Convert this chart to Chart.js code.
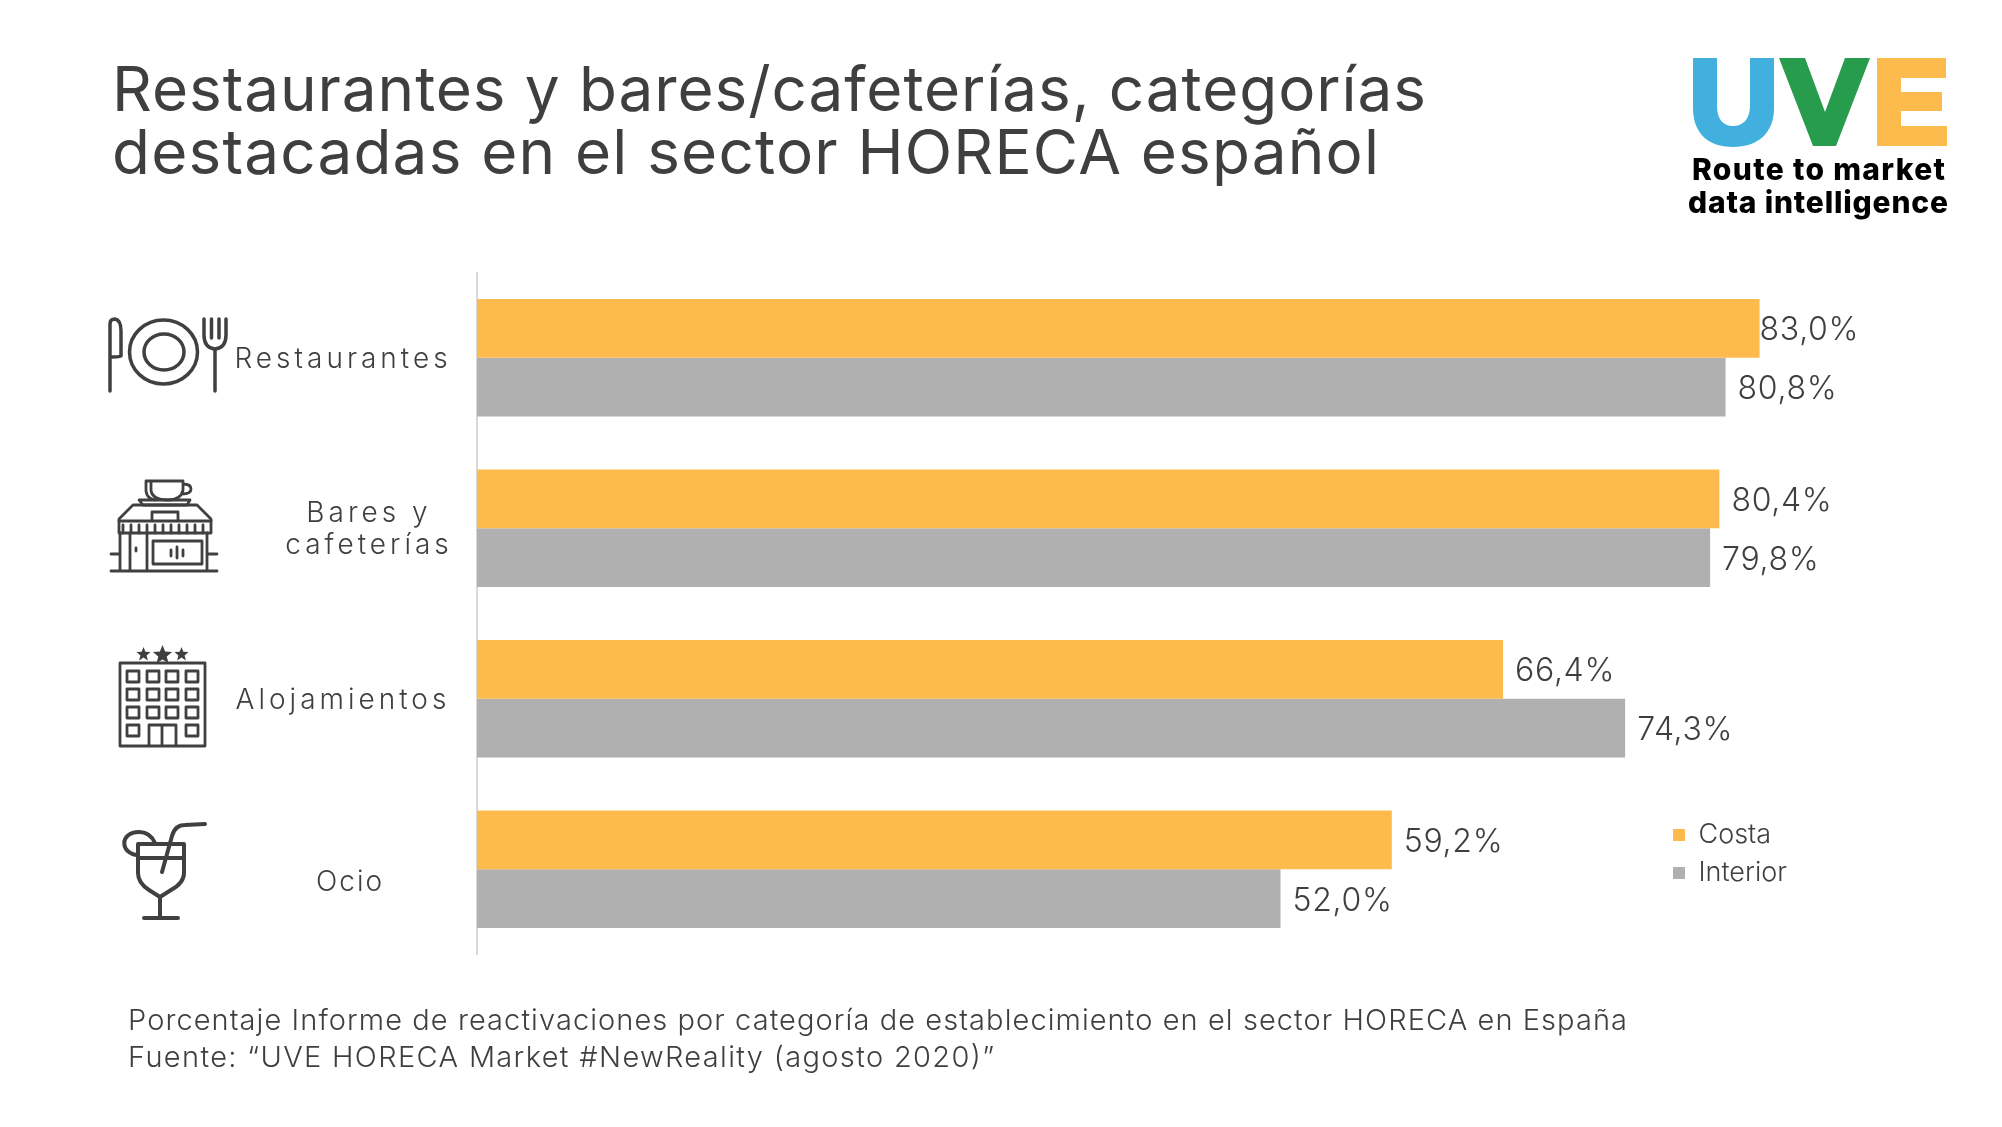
<!DOCTYPE html>
<html lang="es">
<head>
<meta charset="utf-8">
<title>Restaurantes y bares/cafeterías</title>
<script src="https://cdn.jsdelivr.net/npm/chart.js@4"></script>
<style>
  html, body { margin: 0; padding: 0; background: #fff; }
  #lienzo { position: absolute; left: 0; top: 0; width: 2002px; height: 1127px; overflow: hidden; }
  #chartBarras { position: absolute; left: 0; top: 0; }
  #capa { position: absolute; left: 0; top: 0; }
  .titulo { font: 400 62px Inter, sans-serif; fill: #3f3f3f; }
  .nota { font: 300 29px Inter, sans-serif; fill: #3f3f3f; }
  .marca { font: 800 30px Inter, sans-serif; fill: #000; }
  .icono { fill: none; stroke: #404040; stroke-width: 3.5; stroke-linecap: round; stroke-linejoin: round; }
  .estrella { fill: #404040; stroke: none; }
</style>
</head>
<body>
<div id="lienzo">
  <canvas id="chartBarras" width="2002" height="1127"></canvas>
  <svg id="capa" width="2002" height="1127" viewBox="0 0 2002 1127">
    <text class="titulo" x="112" y="111" textLength="1314" lengthAdjust="spacing">Restaurantes y bares/cafeterías, categorías</text>
    <text class="titulo" x="112" y="174" textLength="1267" lengthAdjust="spacing">destacadas en el sector HORECA español</text>

    <!-- logo -->
    <path fill="#42B0DE" d="M1693 58h24v48c0 13 6 20 16 20s17-7 17-20V58h24v50c0 25-16 39-41 39s-40-14-40-39z"/>
    <path fill="#279C4C" d="M1779 58h26l20 54 20-54h25l-34 88h-23z"/>
    <path fill="#FDBB4E" d="M1877 58h69v20h-45v14h41v19h-41v15h46v20h-70z"/>
    <text class="marca" x="1692" y="180" textLength="253" lengthAdjust="spacing">Route to market</text>
    <text class="marca" x="1688" y="213" textLength="260" lengthAdjust="spacing">data intelligence</text>

    <!-- restaurante -->
    <g class="icono">
      <path d="M110 391V324q0-5 5-5q6 1 6 12V356q0 1-9 1"/>
      <ellipse cx="163.500" cy="352" rx="34" ry="32"/>
      <ellipse cx="164" cy="352" rx="20" ry="18"/>
      <path d="M204 319V335Q204 348 215 349Q226 348 226 335V319M211.500 319V338M219 319V338M215 349V391"/>
    </g>
    <!-- cafeteria -->
    <g class="icono" style="stroke-width:2.800" transform="translate(0 -1)">
      <path d="M151 482H146V492Q147 500 155 501M151 482H183V491Q181 501 168 501Q152 501 151 491ZM183 485Q191 485 191 490Q191 495 182 495"/>
      <path d="M139 501H190L187 506H143Z"/>
      <path d="M119 520L133 506H197L211 520V534H119Z"/>
      <path d="M119 522H211"/>
      <path d="M123 534V526M131 534V526M139 534V526M147 534V526M155 534V526M163 534V526M171 534V526M179 534V526M187 534V526M195 534V526M203 534V526"/>
      <path d="M152 521V513H178V521"/>
      <path d="M120 534V572M130 534V572M147 534V572M207 534V572M111 572H217M111 555H120M207 555H217"/>
      <rect x="153" y="542" width="49" height="23"/>
      <path d="M136 549V552M171 551V557M177 548V559M183 551V557"/>
    </g>
    <!-- alojamiento -->
    <g transform="translate(0 -3)">
    <g class="icono" style="stroke-width:2.800;stroke-linecap:butt">
      <rect x="120" y="666" width="85" height="83"/>
      <rect x="127" y="674" width="12" height="11"/><rect x="147" y="674" width="12" height="11"/><rect x="166" y="674" width="12" height="11"/><rect x="186" y="674" width="12" height="11"/>
      <rect x="127" y="692" width="12" height="11"/><rect x="147" y="692" width="12" height="11"/><rect x="166" y="692" width="12" height="11"/><rect x="186" y="692" width="12" height="11"/>
      <rect x="127" y="710" width="12" height="11"/><rect x="147" y="710" width="12" height="11"/><rect x="166" y="710" width="12" height="11"/><rect x="186" y="710" width="12" height="11"/>
      <rect x="127" y="728" width="12" height="11"/><rect x="186" y="728" width="12" height="11"/>
      <path d="M149 749V728H176V749M162 728V749"/>
    </g>
    <path class="estrella" d="M143.500 650l1.900 4.800 5.100.3-3.900 3.300 1.300 5-4.400-2.800-4.400 2.800 1.300-5-3.900-3.300 5.100-.3z"/>
    <path class="estrella" d="M162.500 648l2.600 6.500 7 .5-5.400 4.500 1.800 6.800-6-3.700-6 3.700 1.800-6.800-5.400-4.500 7-.5z"/>
    <path class="estrella" d="M181.500 650l1.900 4.800 5.100.3-3.900 3.300 1.300 5-4.400-2.800-4.400 2.800 1.300-5-3.900-3.300 5.100-.3z"/>
    </g>
    <!-- ocio -->
    <g class="icono" style="stroke-width:4" transform="translate(0 -2)">
      <path d="M138 846H184V875Q184 885 171 892L160 899L149 892Q138 885 138 875Z"/>
      <path d="M138 860H184M160 899V920M144 920H178"/>
      <path d="M162 874L172 838Q175 827 185 827L205 826"/>
      <path d="M138 857C120 856 119 834 139 834Q150 834 155 845"/>
    </g>

    <text class="nota" x="128" y="1030" textLength="1499" lengthAdjust="spacing">Porcentaje Informe de reactivaciones por categoría de establecimiento en el sector HORECA en España</text>
    <text class="nota" x="128" y="1067" textLength="866" lengthAdjust="spacing">Fuente: “UVE HORECA Market #NewReality (agosto 2020)”</text>
  </svg>
</div>
<script>
const categorias = [
  { nome: ['Restaurantes'], centro: 343, ajuste: 1.5, espaco: '4px' },
  { nome: ['Bares y', 'cafeterías'], centro: 369, ajuste: 1.5, espaco: '4px' },
  { nome: ['Alojamientos'], centro: 343, ajuste: 1.5, espaco: '4px' },
  { nome: ['Ocio'], centro: 350, ajuste: 13, espaco: '2px' }
];

const series = [
  { label: 'Costa', dados: [83.0, 80.4, 66.4, 59.2], cor: '#FDBB4E' },
  { label: 'Interior', dados: [80.8, 79.8, 74.3, 52.0], cor: '#B0B0B0' }
];

// rotulos de categoria: cada um tem seu proprio centro no original
const pluginCategorias = {
  id: 'etiquetasCategoria',
  afterDraw(chart) {
    const ctx = chart.ctx;
    const escala = chart.scales.y;
    ctx.save();
    ctx.font = '300 28px Inter, sans-serif';
    ctx.fillStyle = '#3f3f3f';
    ctx.textAlign = 'center';
    ctx.textBaseline = 'middle';
    categorias.forEach((cat, i) => {
      const y = escala.getPixelForTick(i) + cat.ajuste;
      ctx.letterSpacing = cat.espaco;
      cat.nome.forEach((linha, n) => {
        ctx.fillText(linha, cat.centro, y + (n - (cat.nome.length - 1) / 2) * 32);
      });
    });
    ctx.restore();
  }
};

const pluginValores = {
  id: 'valoresBarras',
  afterDatasetsDraw(chart) {
    const ctx = chart.ctx;
    ctx.save();
    ctx.font = '300 32px Inter, sans-serif';
    ctx.letterSpacing = '0.7px';
    ctx.fillStyle = '#3f3f3f';
    ctx.textAlign = 'left';
    ctx.textBaseline = 'middle';
    chart.data.datasets.forEach((ds, d) => {
      chart.getDatasetMeta(d).data.forEach((barra, i) => {
        const texto = ds.data[i].toFixed(1).replace('.', ',') + '%';
        const folga = d === 0 && i === 0 ? 0 : 12;
        ctx.fillText(texto, barra.x + folga, barra.y + 2.5);
      });
    });
    ctx.restore();
  }
};

const pluginLegenda = {
  id: 'posicaoLegenda',
  afterLayout(chart) {
    chart.legend.left = 1662;
    chart.legend.top = 810.5;
    chart.legend.right = 1950;
    chart.legend.bottom = 1050;
  }
};

function criarGrafico() {
  const ctx = document.getElementById('chartBarras').getContext('2d');
  new Chart(ctx, {
    type: 'bar',
    data: {
      labels: categorias.map(cat => cat.nome),
      datasets: series.map(s => ({
        label: s.label,
        data: s.dados,
        backgroundColor: s.cor,
        borderWidth: 0,
        barPercentage: 1,
        categoryPercentage: 0.69
      }))
    },
    options: {
      indexAxis: 'y',
      responsive: false,
      animation: false,
      devicePixelRatio: 1,
      layout: { padding: { left: 0, top: 272.5, right: 57, bottom: 172.5 } },
      plugins: {
        title: { display: false },
        tooltip: { enabled: false },
        legend: {
          position: 'chartArea',
          align: 'start',
          labels: {
            boxWidth: 12,
            boxHeight: 12,
            padding: 11,
            color: '#3f3f3f',
            font: { family: 'Inter, sans-serif', size: 27, weight: '300' }
          }
        }
      },
      scales: {
        x: { display: false, min: 0, max: 95 },
        y: {
          afterFit(escala) { escala.width = 477; },
          grid: { display: false },
          border: { display: true, color: '#d9d9d9', width: 2 },
          ticks: { display: false }
        }
      }
    },
    plugins: [pluginCategorias, pluginValores, pluginLegenda]
  });
}

window.addEventListener('DOMContentLoaded', criarGrafico);
</script>
</body>
</html>
